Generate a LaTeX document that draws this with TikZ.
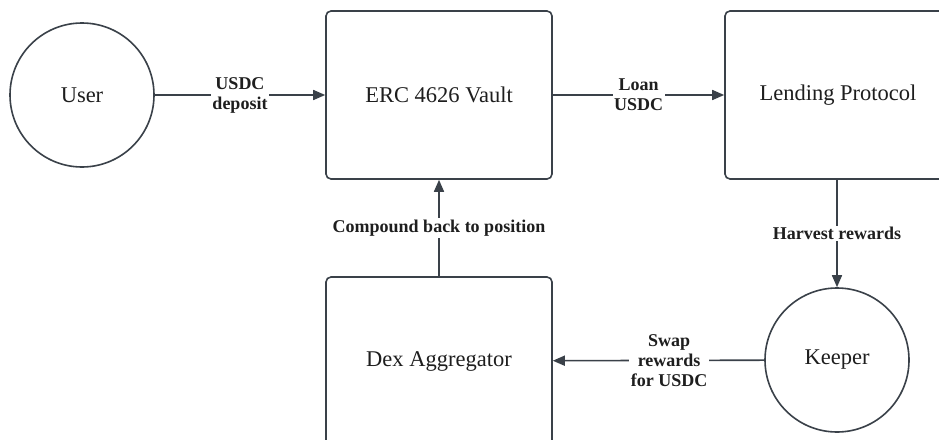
\documentclass[tikz,border=0pt]{standalone}
\usepackage{fontspec}
\setmainfont{Liberation Serif}
\usetikzlibrary{arrows.meta}
\definecolor{edgec}{HTML}{3A4149}
\definecolor{textc}{HTML}{1E1E1E}
\tikzset{
  box/.style={draw=edgec, line width=1.6pt, rounded corners=5pt, minimum width=226pt, minimum height=168pt, inner sep=0pt, text=textc, font=\fontsize{22.5}{26}\selectfont, fill=white},
  actor/.style={draw=edgec, line width=1.6pt, circle, minimum size=144pt, inner sep=0pt, text=textc, font=\fontsize{22.5}{26}\selectfont, fill=white},
  flow/.style={draw=edgec, line width=1.6pt, -{Triangle[length=12pt,width=10pt]}},
  lbl/.style={fill=white, inner sep=1.5pt, align=center, text=textc, font=\bfseries\fontsize{18}{20}\selectfont}
}
\begin{document}
\begin{tikzpicture}[x=1pt,y=-1pt]
\clip (0,0) rectangle (939,439);
\fill[white] (0,0) rectangle (939,439);
\node[actor] (user) at (82,95) {User};
\node[box] (vault) at (439,95) {ERC 4626 Vault};
\node[box] (lend) at (838,95) {Lending Protocol};
\node[box] (dex) at (439,361) {Dex Aggregator};
\node[actor] (keeper) at (837,360) {Keeper};
\draw[flow] (user) -- node[lbl] {USDC\\deposit} (vault);
\draw[flow] (vault) -- node[lbl] {Loan\\USDC} (lend);
\draw[flow] (lend.south -| keeper) -- node[lbl] {Harvest rewards} (keeper);
\draw[flow] (keeper) -- node[lbl, pos=0.45] {Swap\\rewards\\for USDC} (dex);
\draw[flow] (dex) -- node[lbl] {Compound back to position} (vault);
\end{tikzpicture}
\end{document}
